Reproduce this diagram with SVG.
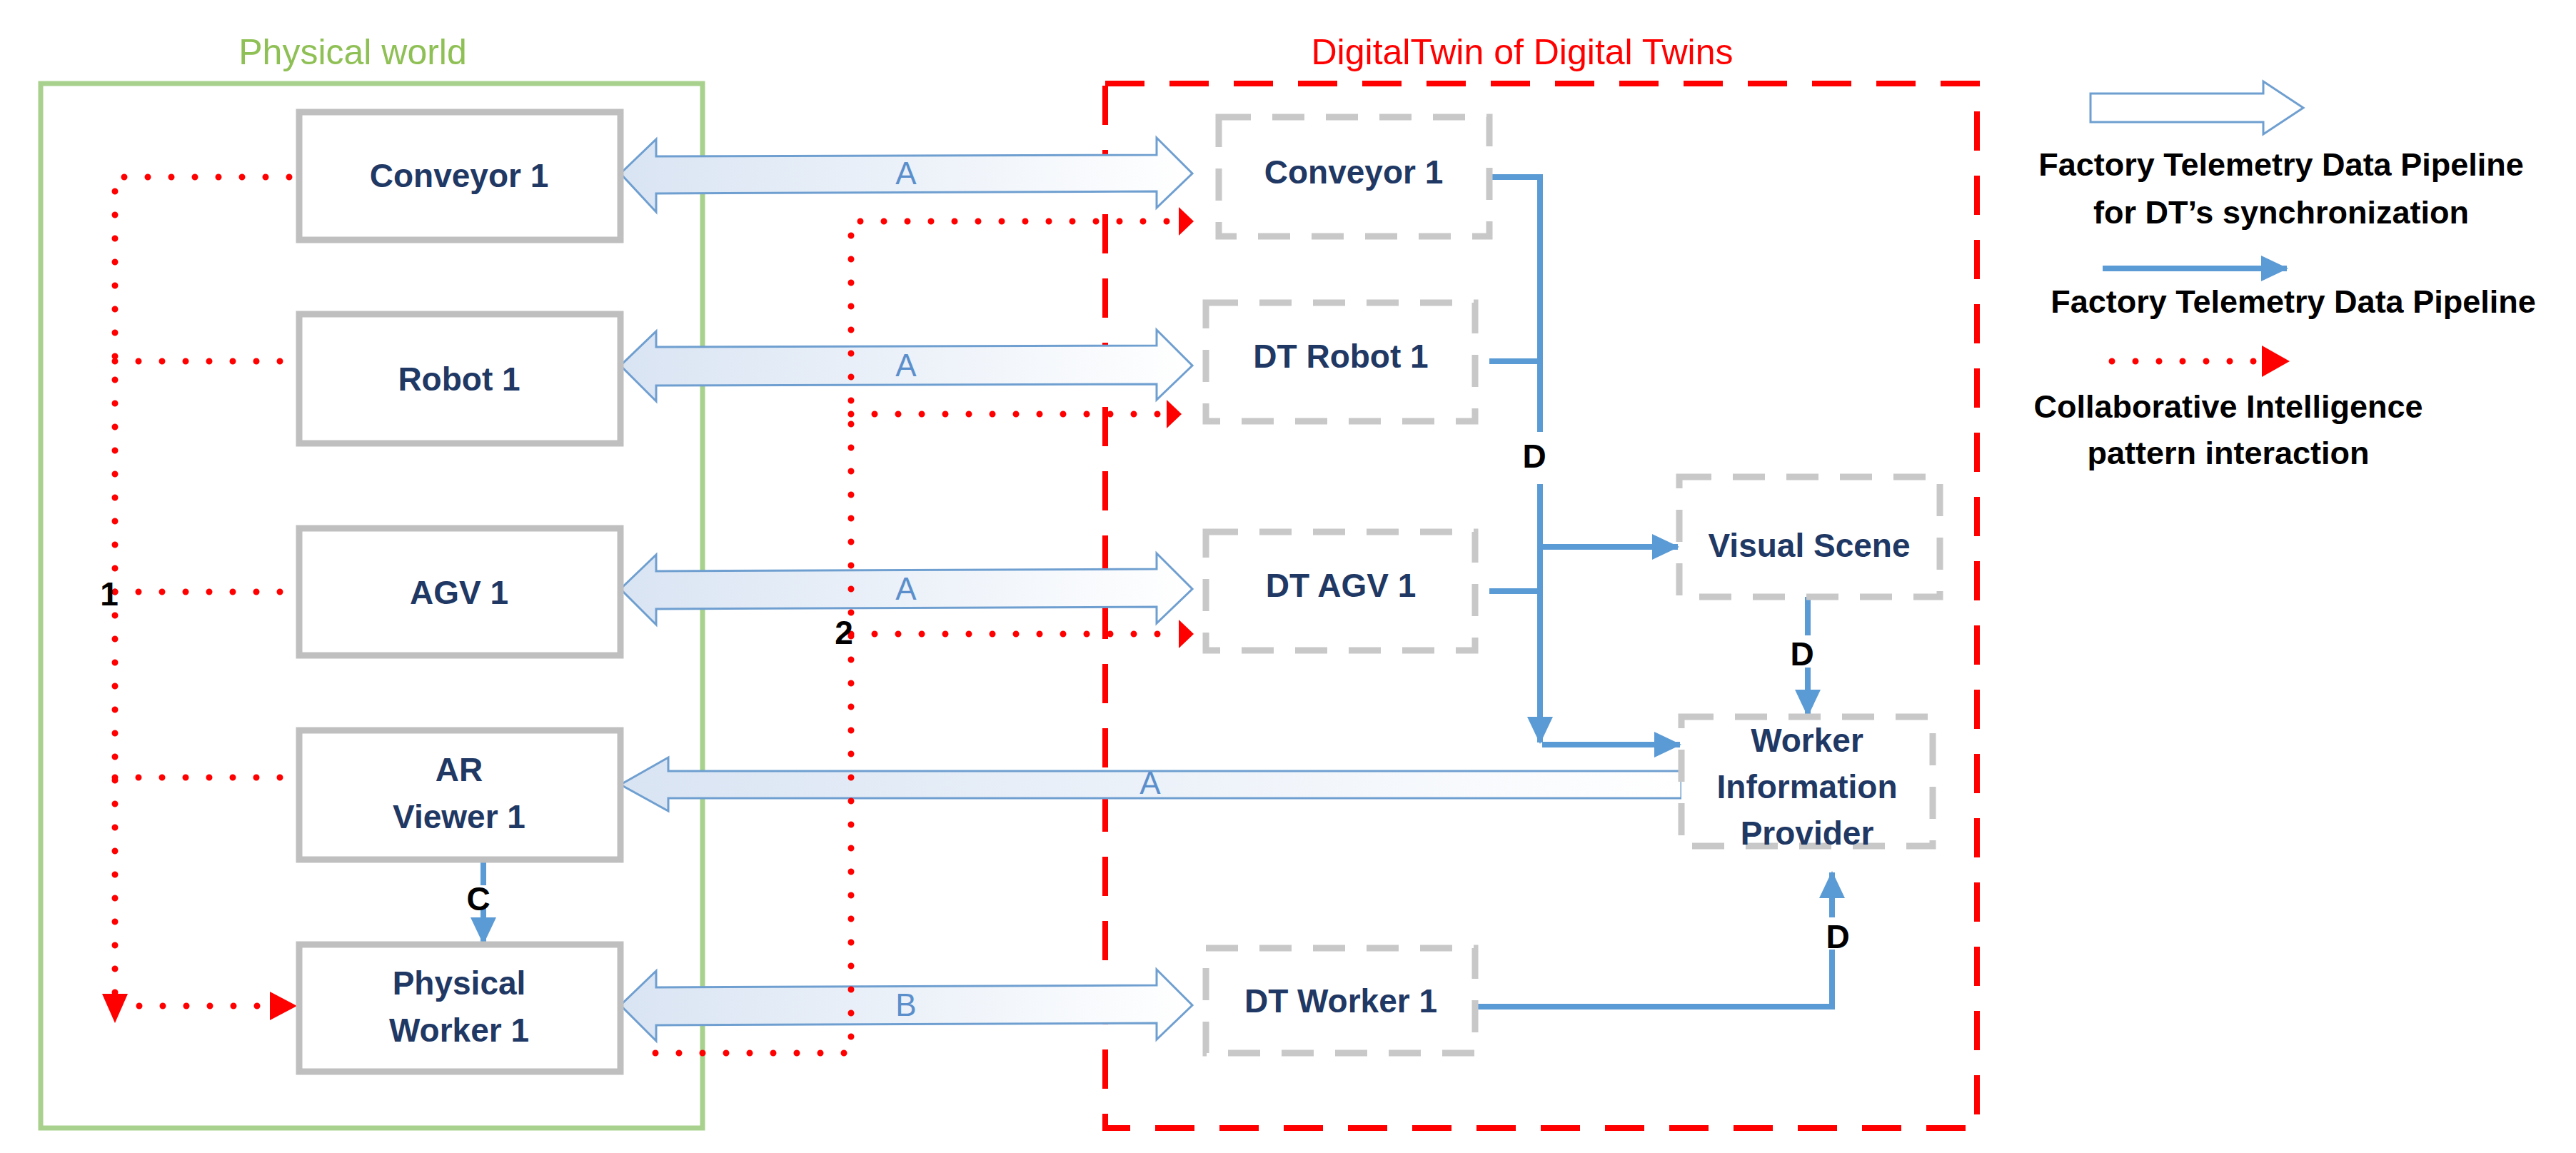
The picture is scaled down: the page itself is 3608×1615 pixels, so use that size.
<svg xmlns="http://www.w3.org/2000/svg" width="3608" height="1615" viewBox="0 0 3608 1615">
<style>
text{font-family:"Liberation Sans",Arial,sans-serif;text-anchor:middle}
.pn{fill:#fff;stroke:#bfbfbf;stroke-width:9}
.dn{fill:#fff;stroke:#c8c8c8;stroke-width:9;stroke-dasharray:45 30}
.nt{font-size:46px;font-weight:bold;fill:#1f3864}
.ha{fill:url(#g);stroke:#6f9fd0;stroke-width:3}
.al{font-size:44px;fill:#5b8fcc}
.bl{fill:none;stroke:#5b9bd5;stroke-width:8}
.rd{fill:none;stroke:#ff0000;stroke-width:9;stroke-linecap:round;stroke-dasharray:0 33}
.lb{font-size:46px;font-weight:bold;fill:#000}
.lg{font-size:45px;font-weight:bold;fill:#000}
</style>
<defs>
<linearGradient id="g" x1="0" y1="0" x2="1" y2="0"><stop offset="0" stop-color="#d9e4f3"/><stop offset="1" stop-color="#fff"/></linearGradient>
<marker id="ba" markerUnits="userSpaceOnUse" markerWidth="40" markerHeight="40" refX="36" refY="20" orient="auto"><path d="M0,2 L38,20 L0,38 Z" fill="#5b9bd5"/></marker>
</defs>
<rect width="3608" height="1615" fill="#fff"/>
<g id="physical-world">
<rect x="57" y="117" width="927" height="1463" fill="none" stroke="#a9d18e" stroke-width="7"/>
<text x="494" y="90" font-size="50" fill="#8fc055">Physical world</text>
</g>
<g id="digital-twin">
<rect x="1548" y="117" width="1221" height="1463" fill="none" stroke="#ff0000" stroke-width="8" stroke-dasharray="55 35"/>
<text x="2132" y="90" font-size="50" fill="#ff0000">DigitalTwin of Digital Twins</text>
</g>
<g id="connectors">
<path class="ha" d="M869,243 L919,195 L919,219 L1620,217 L1620,193 L1670,243 L1620,291 L1620,268 L919,271 L919,297 Z"/>
<path class="ha" d="M869,512 L919,464 L919,486 L1620,484 L1620,462 L1670,512 L1620,560 L1620,538 L919,540 L919,562 Z"/>
<path class="ha" d="M869,825 L919,777 L919,800 L1620,797 L1620,775 L1670,825 L1620,873 L1620,850 L919,853 L919,875 Z"/>
<path class="ha" d="M869,1408 L919,1360 L919,1383 L1620,1380 L1620,1358 L1670,1408 L1620,1456 L1620,1433 L919,1436 L919,1458 Z"/>
<path class="ha" d="M869,1099 L936,1061 L936,1080 L2355,1080 L2355,1118 L936,1118 L936,1136 Z"/>
<text class="al" x="1269" y="258">A</text>
<text class="al" x="1269" y="527">A</text>
<text class="al" x="1269" y="840">A</text>
<text class="al" x="1269" y="1423">B</text>
<text class="al" x="1611" y="1112">A</text>
<path class="bl" d="M2086,248 H2157 V605"/>
<path class="bl" d="M2086,506 H2157"/>
<path class="bl" d="M2157,678 V1040" marker-end="url(#ba)"/>
<path class="bl" d="M2086,828 H2157"/>
<path class="bl" d="M2157,766 H2350" marker-end="url(#ba)"/>
<path class="bl" d="M2160,1043 H2353" marker-end="url(#ba)"/>
<text class="lb" x="2149" y="655">D</text>
<path class="bl" d="M2532,836 V890"/>
<path class="bl" d="M2532,935 V1002" marker-end="url(#ba)"/>
<text class="lb" x="2524" y="932">D</text>
<path class="bl" d="M2066,1410 H2566 V1330"/>
<path class="bl" d="M2566,1285 V1222" marker-end="url(#ba)"/>
<text class="lb" x="2574" y="1328">D</text>
<path class="bl" d="M677,1204 V1240"/>
<path class="bl" d="M677,1270 V1321" marker-end="url(#ba)"/>
<text class="lb" x="670" y="1275">C</text>
<path class="rd" d="M405,248 H161 V1400"/>
<path d="M143,1392 L179,1392 L161,1433 Z" fill="#ff0000"/>
<path class="rd" d="M161,506 H405"/>
<path class="rd" d="M161,829 H405"/>
<path class="rd" d="M161,1089 H400"/>
<path class="rd" d="M195,1409 H380"/>
<path d="M378,1389 L416,1409 L378,1429 Z" fill="#ff0000"/>
<text class="lb" x="153" y="848">1</text>
<path class="rd" d="M918,1475 H1192 V310 H1640"/>
<path d="M1651,290 L1672,310 L1651,330 Z" fill="#ff0000"/>
<path class="rd" d="M1192,580 H1625"/>
<path d="M1634,560 L1655,580 L1634,600 Z" fill="#ff0000"/>
<path class="rd" d="M1192,888 H1640"/>
<path d="M1651,868 L1672,888 L1651,908 Z" fill="#ff0000"/>
<text class="lb" x="1182" y="902">2</text>
</g>
<g id="conveyor-1"><rect class="pn" x="419" y="157" width="450" height="179"/><text class="nt" x="643" y="262">Conveyor 1</text></g>
<g id="robot-1"><rect class="pn" x="419" y="440" width="450" height="181"/><text class="nt" x="643" y="547">Robot 1</text></g>
<g id="agv-1"><rect class="pn" x="419" y="740" width="450" height="178"/><text class="nt" x="643" y="846">AGV 1</text></g>
<g id="ar-viewer-1"><rect class="pn" x="419" y="1023" width="450" height="181"/><text class="nt" x="643" y="1094">AR</text><text class="nt" x="643" y="1160">Viewer 1</text></g>
<g id="physical-worker-1"><rect class="pn" x="419" y="1323" width="450" height="178"/><text class="nt" x="643" y="1393">Physical</text><text class="nt" x="643" y="1459">Worker 1</text></g>
<g id="dt-conveyor-1"><rect class="dn" x="1707" y="164" width="379" height="167"/><text class="nt" x="1896" y="257">Conveyor 1</text></g>
<g id="dt-robot-1"><rect class="dn" x="1689" y="424" width="377" height="166"/><text class="nt" x="1878" y="515">DT Robot 1</text></g>
<g id="dt-agv-1"><rect class="dn" x="1689" y="745" width="377" height="166"/><text class="nt" x="1878" y="836">DT AGV 1</text></g>
<g id="visual-scene"><rect class="dn" x="2352" y="668" width="365" height="168"/><text class="nt" x="2534" y="780">Visual Scene</text></g>
<g id="worker-information-provider"><rect class="dn" x="2355" y="1004" width="352" height="181"/><text class="nt" x="2531" y="1053">Worker</text><text class="nt" x="2531" y="1118">Information</text><text class="nt" x="2531" y="1183">Provider</text></g>
<g id="dt-worker-1"><rect class="dn" x="1689" y="1328" width="377" height="147"/><text class="nt" x="1878" y="1418">DT Worker 1</text></g>
<g id="legend">
<path d="M2928,131 L3170,131 L3170,114 L3226,151 L3170,188 L3170,171 L2928,171 Z" fill="#fff" stroke="#6f9fd0" stroke-width="3"/>
<text class="lg" x="3195" y="246">Factory Telemetry Data Pipeline</text>
<text class="lg" x="3195" y="313">for DT’s synchronization</text>
<path class="bl" d="M2945,376 H3203" marker-end="url(#ba)"/>
<text class="lg" x="3212" y="438">Factory Telemetry Data Pipeline</text>
<path class="rd" d="M2958,506 H3160"/>
<path d="M3168,484 L3207,506 L3168,528 Z" fill="#ff0000"/>
<text class="lg" x="3121" y="585">Collaborative Intelligence</text>
<text class="lg" x="3121" y="650">pattern interaction</text>
</g>
</svg>
